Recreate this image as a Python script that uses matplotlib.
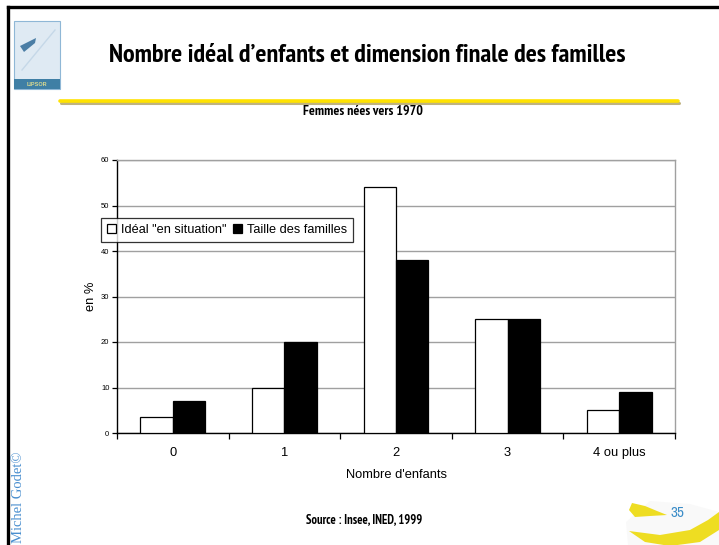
import matplotlib
matplotlib.use("Agg")
import matplotlib.pyplot as plt
from matplotlib import font_manager
from matplotlib.font_manager import FontProperties
from matplotlib.patches import Rectangle, Polygon
from matplotlib.lines import Line2D
import numpy as np

# ---- data ----
categories = ["0", "1", "2", "3", "4 ou plus"]
ideal = [3.5, 10, 54, 25, 5]
taille = [7, 20, 38, 25, 9]
series_names = ['Idéal "en situation"', "Taille des familles"]
yticks = [0, 10, 20, 30, 40, 50, 60]

title = "Nombre idéal d’enfants et dimension finale des familles"
subtitle = "Femmes nées vers 1970"
source = "Source : Insee, INED, 1999"
xlabel = "Nombre d'enfants"
ylabel = "en %"
page = "35"
author = "Michel Godet©"


def _wt(f):
    w = f.weight
    if isinstance(w, int):
        return w
    return 700 if "bold" in str(w) else 400


def find_narrow(bold=True):
    cands = []
    for f in font_manager.fontManager.ttflist:
        key = (f.name + " " + f.fname).lower()
        if not any(k in key for k in ("narrow", "condensed", "cond")):
            continue
        if "italic" in key or f.style != "normal":
            continue
        pri = 2 if ("extra" in key or "ultra" in key or "semi" in key) else 0
        wt = _wt(f)
        if bold and wt < 600:
            continue
        if not bold and wt > 500:
            continue
        if "black" in key or "extrabold" in key or "semibold" in key or "light" in key or "thin" in key:
            pri += 1
        if "narrow" in key:
            pri -= 1
        cands.append((pri, f.fname))
    cands.sort()
    return cands[0][1] if cands else None


nb = find_narrow(True)
nr = find_narrow(False)


def narrow(size):
    if nb:
        return FontProperties(fname=nb, size=size)
    return FontProperties(family="Liberation Sans", weight="bold", size=size * 0.8)


def narrow_reg(size):
    if nr:
        return FontProperties(fname=nr, size=size)
    return FontProperties(family="Liberation Sans", size=size * 0.8)


W, H = 719, 545
fig = plt.figure(figsize=(W / 100, H / 100), dpi=100)


def fx(x):
    return x / W


def fy(y):
    return 1 - y / H


# slide border (top and left)
fig.add_artist(Line2D([fx(8), fx(719)], [fy(7), fy(7)], color="black", lw=2.4))
fig.add_artist(Line2D([fx(8), fx(8)], [fy(7), fy(545)], color="black", lw=2.4))

# logo
fig.add_artist(Rectangle((fx(14), fy(89)), fx(46), 68 / H, facecolor="#dfeaf3",
                         edgecolor="#8fb7d6", lw=0.8))
fig.add_artist(Rectangle((fx(14), fy(89)), fx(46), 10 / H, facecolor="#3f7fa5",
                         edgecolor="none"))
fig.add_artist(Polygon([[fx(20), fy(46)], [fx(36), fy(38)], [fx(35), fy(43)],
                        [fx(24), fy(52)]], closed=True, facecolor="#4b7ea5",
                       edgecolor="none"))
fig.add_artist(Line2D([fx(22), fx(55)], [fy(70), fy(30)], color="#c5d8e8", lw=1.0))
fig.text(fx(37), fy(84), "LIPSOR", ha="center", va="center", fontsize=4,
         color="#d8d890", family="Liberation Sans", fontweight="bold")

# title
fig.text(fx(367), fy(56), title, ha="center", va="center",
         fontproperties=narrow(18.8))

# yellow rule with shadow
fig.add_artist(Line2D([fx(61), fx(679)], [fy(102.5), fy(102.5)], color="#b0a060",
                      lw=2.2, solid_capstyle="round", alpha=0.8))
fig.add_artist(Line2D([fx(60), fx(678)], [fy(100.5), fy(100.5)], color="#ffe200",
                      lw=2.6, solid_capstyle="round"))

fig.text(fx(363), fy(111), subtitle, ha="center", va="center",
         fontproperties=narrow(10))

# axes
ax = fig.add_axes([fx(117), fy(433), (675 - 117) / W, (433 - 160) / H])
x = np.arange(len(categories))
bw = 0.291
ax.bar(x - bw / 2, ideal, bw, color="white", edgecolor="black", lw=0.9,
       label=series_names[0], zorder=3)
ax.bar(x + bw / 2, taille, bw, color="black", edgecolor="black", lw=0.9,
       label=series_names[1], zorder=3)
ax.set_xlim(-0.5, len(categories) - 0.5)
ax.set_ylim(0, 60)
ax.set_yticks(yticks)
ax.set_yticklabels([str(t) for t in yticks], fontsize=5.5, family="Liberation Sans")
ax.yaxis.grid(True, color="#a0a0a0", lw=1.0, zorder=0)
ax.set_xticks(x)
ax.set_xticklabels(categories, fontsize=9.3, family="Liberation Sans")
ax.set_xticks(np.arange(-0.5, len(categories)), minor=True)
ax.tick_params(axis="x", which="major", length=0, pad=10)
ax.tick_params(axis="x", which="minor", length=4, width=0.9, direction="out")
ax.tick_params(axis="y", length=3.5, width=0.9, direction="out", pad=2)
for s in ["left", "bottom"]:
    ax.spines[s].set_color("black")
    ax.spines[s].set_linewidth(1.0)
for s in ["top", "right"]:
    ax.spines[s].set_color("#a0a0a0")
    ax.spines[s].set_linewidth(1.0)
ax.set_xlabel(xlabel, fontsize=9.3, family="Liberation Sans", labelpad=7)
ax.set_ylabel(ylabel, fontsize=9.3, family="Liberation Sans", labelpad=3)

leg = ax.legend(loc="upper left", bbox_to_anchor=((101 - 117) / 558, 1 - (218 - 160) / 273),
                ncol=2, frameon=True, fancybox=False, edgecolor="black",
                prop=dict(family="Liberation Sans", size=9.2),
                handlelength=0.75, handleheight=0.75, handletextpad=0.35,
                columnspacing=0.5, borderpad=0.45, borderaxespad=0)
leg.get_frame().set_linewidth(0.9)
leg.set_zorder(5)

fig.text(fx(364), fy(520), source, ha="center", va="center",
         fontproperties=narrow(9))

fig.text(fx(19), fy(497), author, rotation=90, ha="center", va="center",
         fontsize=10.5, color="#4a8fcf", family="Liberation Serif")

# page number with swooshes
fig.add_artist(Polygon([[fx(626), fy(522)], [fx(650), fy(501)], [fx(690), fy(504)],
                        [fx(719), fy(512)], [fx(719), fy(545)], [fx(628), fy(545)]],
                       closed=True, facecolor="#f2f2f2", edgecolor="none", alpha=0.45))
fig.add_artist(Polygon([[fx(629), fy(510)], [fx(632), fy(503)], [fx(645), fy(506)],
                        [fx(657), fy(511)], [fx(667), fy(515)], [fx(650), fy(516)],
                        [fx(635), fy(517)]],
                       closed=True, facecolor="#eedd22", edgecolor="none"))
fig.add_artist(Polygon([[fx(629), fy(531)], [fx(660), fy(535)], [fx(690), fy(530)],
                        [fx(708), fy(520)], [fx(719), fy(512)], [fx(719), fy(530)],
                        [fx(700), fy(542)], [fx(670), fy(546)], [fx(645), fy(542)]],
                       closed=True, facecolor="#eedd22", edgecolor="none"))
fig.text(fx(677), fy(513), page, ha="center", va="center",
         fontproperties=narrow_reg(11), color="#3c8dc8")

fig.savefig("out.png", dpi=100)
